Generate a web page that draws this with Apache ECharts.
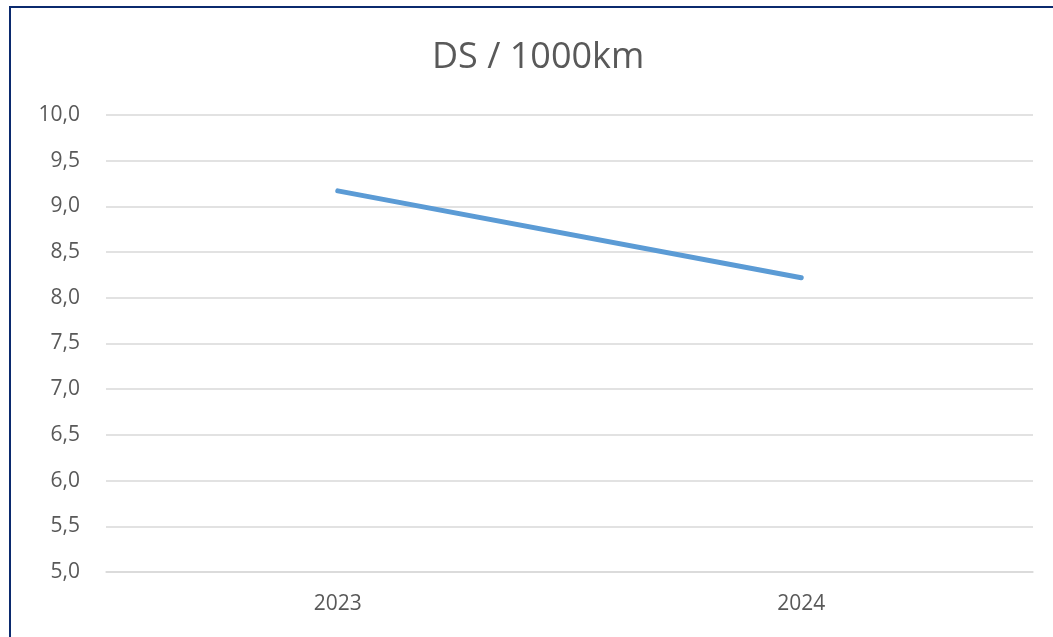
<!DOCTYPE html>
<html>
<head>
<meta charset="utf-8">
<script src="https://cdn.jsdelivr.net/npm/echarts@6/dist/echarts.min.js"></script>
<style>
html,body{margin:0;padding:0;background:#fff;overflow:hidden;}
#chart{width:1053px;height:637px;}
</style>
</head>
<body>
<div id="chart"></div>
<script>
const categories = ['2023', '2024'];
const dsValues = [9.17, 8.22];
const titleText = 'DS / 1000km';

const chart = echarts.init(document.getElementById('chart'), null, {renderer: 'canvas'});
chart.setOption({
  animation: false,
  backgroundColor: '#ffffff',
  title: {
    text: titleText,
    left: 427,
    top: 35,
    textStyle: {fontFamily: 'Open Sans', fontSize: 36, fontWeight: 'normal', color: '#595959'}
  },
  graphic: [{
    type: 'rect',
    shape: {x: 10, y: 7, width: 1200, height: 800},
    style: {fill: 'none', stroke: '#0B2A6E', lineWidth: 2},
    silent: true
  }],
  grid: {left: 106, right: 20, top: 115, bottom: 65, containLabel: false},
  xAxis: {
    type: 'category',
    data: categories,
    boundaryGap: true,
    axisLine: {show: true, lineStyle: {color: '#d9d9d9', width: 1.5}},
    axisTick: {show: false},
    axisLabel: {margin: 22, fontFamily: 'Open Sans', fontSize: 21, color: '#595959'}
  },
  yAxis: {
    type: 'value',
    min: 5,
    max: 10,
    interval: 0.5,
    axisLine: {show: false},
    axisTick: {show: false},
    splitLine: {lineStyle: {color: '#d9d9d9', width: 1.5}},
    axisLabel: {
      margin: 26,
      fontFamily: 'Open Sans',
      fontSize: 21,
      color: '#595959',
      formatter: v => v.toFixed(1).replace('.', ',')
    }
  },
  series: [{
    type: 'line',
    data: dsValues,
    symbol: 'none',
    lineStyle: {color: '#5B9BD5', width: 5, cap: 'round'}
  }]
});
</script>
</body>
</html>
